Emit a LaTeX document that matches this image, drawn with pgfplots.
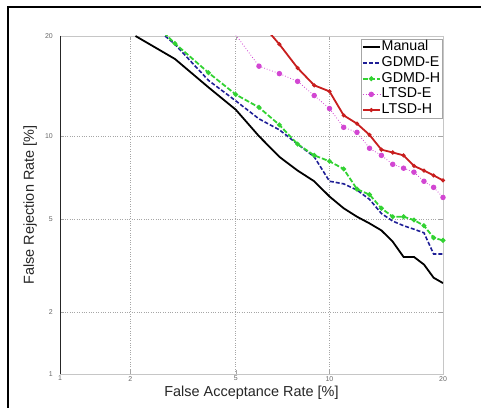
\documentclass[border=0pt]{standalone}
\usepackage{fontspec}
\setmainfont{Liberation Sans}
\usepackage{pgfplots}
\pgfplotsset{compat=1.18}

% probit (normal deviate) transform of a percentage, DET-curve scale
\newcommand\probitcalc[1]{%
  \begingroup
  \pgfkeys{/pgf/fpu=true,/pgf/fpu/output format=fixed}%
  \pgfmathparse{sqrt(-2*ln((#1)/100))}%
  \let\probitT\pgfmathresult
  \pgfmathparse{-(\probitT-(2.515517+0.802853*\probitT+0.010328*\probitT*\probitT)/(1+1.432788*\probitT+0.189269*\probitT*\probitT+0.001308*\probitT*\probitT*\probitT))}%
  \xdef\probitResult{\pgfmathresult}%
  \endgroup
  \let\pgfmathresult\probitResult
}

\definecolor{cblue}{RGB}{30,30,150}
\definecolor{cgreen}{RGB}{50,210,50}
\definecolor{cmag}{RGB}{210,70,210}
\definecolor{cred}{RGB}{200,30,30}

\begin{document}
\begin{tikzpicture}
\useasboundingbox (0,0) rectangle (481bp,408bp);
\draw[black, line width=2bp] (8bp,0) -- (8bp,401bp) -- (481bp,401bp);
\begin{axis}[
  at={(60bp,34bp)}, anchor=south west,
  scale only axis, width=383bp, height=338bp,
  x coord trafo/.code={\probitcalc{#1}},
  y coord trafo/.code={\probitcalc{#1}},
  xmin=1, xmax=20, ymin=1, ymax=20,
  xtick={1,2,5,10,20}, xticklabels={1,2,5,10,20},
  ytick={1,2,5,10,20}, yticklabels={1,2,5,10,20},
  minor tick num=4,
  grid=major,
  major grid style={gray!70, dotted, line width=0.6bp},
  axis line style={gray!45, line width=0.6bp},
  tick style={gray!70, line width=0.5bp},
  major tick length=4bp, minor tick length=2bp,
  tick label style={font=\fontsize{7}{8}\selectfont, text=gray!80!black},
  /pgf/number format/assume math mode=true,
  xticklabel style={inner sep=1bp, yshift=-1bp},
  yticklabel style={inner sep=1bp, xshift=-6bp},
  xlabel={False Acceptance Rate [\%]},
  ylabel={False Rejection Rate [\%]},
  label style={font=\fontsize{14.5}{16}\selectfont, text=black!85},
  xlabel style={at={(axis description cs:0.5,-0.0355)}, anchor=north, inner sep=0pt},
  ylabel style={at={(axis description cs:-0.060,0.5)}, anchor=south, inner sep=0pt},
  legend style={at={(rel axis cs:1,1)}, anchor=north east, xshift=-1bp, yshift=-3bp,
    draw=gray!70, fill=white, line width=0.5bp,
    font=\fontsize{14.3}{15}\selectfont, inner sep=0.5bp, row sep=0.7bp,
    nodes={inner sep=1bp, text height=10bp, text depth=3bp}},
  legend cell align=left,
]
\addplot[black, line width=1.8bp] coordinates {
 (2.1,20) (3,17.3) (4,14.3) (5,12.2) (6,10.0) (7,8.5) (8,7.6) (9,6.95)
 (10,6.1) (11,5.5) (12,5.1) (13,4.8) (14,4.5) (15,4.05) (16,3.5) (17,3.5)
 (18,3.25) (19,2.85) (20,2.7)};
\addlegendentry{Manual}
\addplot[cblue, line width=1.6bp, dash pattern=on 4bp off 2bp] coordinates {
 (2.75,20) (3,19) (4,15.0) (5,13.0) (6,11.4) (7,10.5) (8,9.4) (9,8.5)
 (10,6.95) (11,6.8) (12,6.45) (13,5.95) (14,5.25) (15,4.9) (16,4.7) (17,4.55)
 (18,4.4) (19,3.6) (20,3.6)};
\addlegendentry{GDMD-E}
\addplot[cgreen, line width=1.8bp, dash pattern=on 5bp off 2bp, mark=*, mark size=1.4bp, mark options={solid}] coordinates {
 (2.6,21) (3,19.1) (4,15.8) (5,13.6) (6,12.4) (7,10.9) (8,9.4) (9,8.6)
 (10,8.2) (11,7.7) (12,6.5) (13,6.2) (14,5.5) (15,5.1) (16,5.1) (17,4.95)
 (18,4.7) (19,4.2) (20,4.1)};
\addlegendentry{GDMD-H}
\addplot[cmag, line width=0.8bp, dotted, mark=*, mark size=2.3bp, mark options={solid}] coordinates {
 (4.8,21) (6,16.5) (7,15.7) (8,14.9) (9,13.5) (10,12.3) (11,10.7) (12,10.3)
 (13,9.1) (14,8.6) (15,8.0) (16,7.75) (17,7.5) (18,6.95) (19,6.6) (20,6.05)};
\addlegendentry{LTSD-E}
\addplot[cred, line width=1.8bp, mark=*, mark size=1bp] coordinates {
 (6.3,21) (7,19) (8,16.3) (9,14.5) (10,13.9) (11,11.7) (12,11.0) (13,10.1)
 (14,9.0) (15,8.8) (16,8.6) (17,7.9) (18,7.6) (19,7.3) (20,7.0)};
\addlegendentry{LTSD-H}
\draw[gray!30!black, line width=0.7bp] (rel axis cs:0,1) -- (rel axis cs:0,0) -- (rel axis cs:1,0);
\end{axis}
\end{tikzpicture}
\end{document}
